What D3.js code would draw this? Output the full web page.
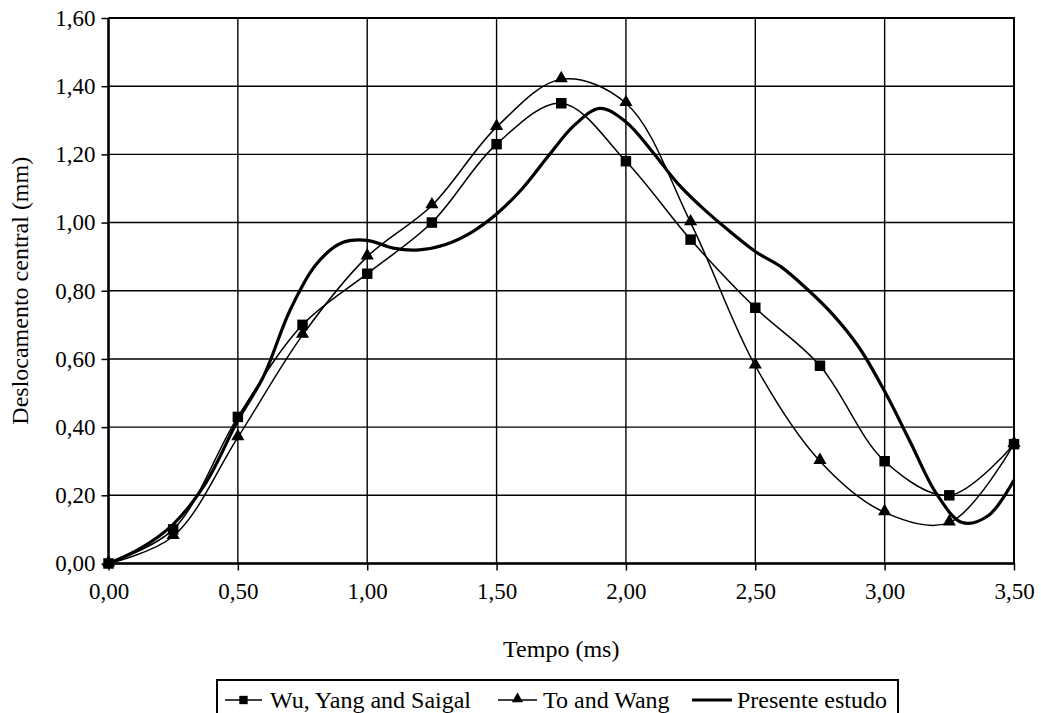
<!DOCTYPE html>
<html>
<head>
<meta charset="utf-8">
<script src="https://cdn.jsdelivr.net/npm/d3@7"></script>
<style>
  html, body { margin: 0; padding: 0; background: #fff; }
  svg { display: block; font-family: "Liberation Serif", "Times New Roman", serif; }
</style>
</head>
<body>
<svg id="chart" width="1041" height="713"></svg>
<script>
// Time instants (ms) for the reference solutions
const tempo = [0, 0.25, 0.5, 0.75, 1.0, 1.25, 1.5, 1.75, 2.0, 2.25, 2.5, 2.75, 3.0, 3.25, 3.5];
// Central displacement (mm) – Wu, Yang and Saigal
const wuYangSaigal = [0.00, 0.10, 0.43, 0.70, 0.85, 1.00, 1.23, 1.35, 1.18, 0.95, 0.75, 0.58, 0.30, 0.20, 0.35];
// Central displacement (mm) – To and Wang
const toWang = [0.00, 0.08, 0.37, 0.67, 0.90, 1.05, 1.28, 1.42, 1.35, 1.00, 0.58, 0.30, 0.15, 0.12, 0.35];
// Present study: finer time sampling
const tempoEstudo = [0, 0.125, 0.25, 0.375, 0.5, 0.6, 0.7, 0.8, 0.9, 1.0, 1.1, 1.2, 1.3, 1.4, 1.5, 1.6, 1.7, 1.8, 1.9, 2.0,
  2.1, 2.2, 2.3, 2.4, 2.5, 2.6, 2.7, 2.8, 2.9, 3.0, 3.1, 3.2, 3.3, 3.4, 3.5];
const presenteEstudo = [0.00, 0.045, 0.115, 0.235, 0.42, 0.55, 0.74, 0.875, 0.94, 0.948, 0.925, 0.92, 0.935, 0.97, 1.025,
  1.10, 1.195, 1.285, 1.335, 1.295, 1.21, 1.115, 1.04, 0.975, 0.915, 0.87, 0.805, 0.73, 0.635, 0.505, 0.355, 0.205, 0.12, 0.14, 0.245];

const xTicks = [0, 0.5, 1.0, 1.5, 2.0, 2.5, 3.0, 3.5];
const yTicks = [0, 0.2, 0.4, 0.6, 0.8, 1.0, 1.2, 1.4, 1.6];
const seriesNames = ["Wu, Yang and Saigal", "To and Wang", "Presente estudo"];

const svg = d3.select("#chart");
const plotLeft = 108.5, plotRight = 1014, plotTop = 18, plotBottom = 563.5;
const fmt = v => d3.format(".2f")(v).replace(".", ",");

const x = d3.scaleLinear().domain([0, 3.5]).range([plotLeft, plotRight]);
const y = d3.scaleLinear().domain([0, 1.6]).range([plotBottom, plotTop]);

// Grid
const grid = svg.append("g").attr("stroke", "#000").attr("stroke-width", 1.4);
grid.selectAll("line.h").data(yTicks).join("line").attr("class", "h")
  .attr("x1", plotLeft).attr("x2", plotRight).attr("y1", d => y(d)).attr("y2", d => y(d));
grid.selectAll("line.v").data(xTicks).join("line").attr("class", "v")
  .attr("y1", plotTop).attr("y2", plotBottom).attr("x1", d => x(d)).attr("x2", d => x(d));

// Plot frame (top and right)
svg.append("path")
  .attr("d", `M${plotLeft},${plotTop}H${plotRight}V${plotBottom}`)
  .attr("fill", "none").attr("stroke", "#000").attr("stroke-width", 2);

// Axes
const xAxis = d3.axisBottom(x).tickValues(xTicks).tickFormat(fmt).tickSize(7).tickPadding(12);
const yAxis = d3.axisLeft(y).tickValues(yTicks).tickFormat(fmt).tickSize(7).tickPadding(6);

const gx = svg.append("g").attr("transform", `translate(0,${plotBottom})`).call(xAxis);
const gy = svg.append("g").attr("transform", `translate(${plotLeft},0)`).call(yAxis);
[gx, gy].forEach(g => {
  g.select(".domain").remove();
  g.selectAll(".tick line").attr("stroke", "#000").attr("stroke-width", 1.5);
  g.selectAll(".tick text").attr("fill", "#000")
    .style("font-family", "'Liberation Serif', serif").style("font-size", "23px");
});
svg.append("line").attr("x1", plotLeft).attr("x2", plotLeft).attr("y1", plotTop).attr("y2", plotBottom + 1)
  .attr("stroke", "#000").attr("stroke-width", 2.5);
svg.append("line").attr("x1", plotLeft - 1).attr("x2", plotRight + 1).attr("y1", plotBottom).attr("y2", plotBottom)
  .attr("stroke", "#000").attr("stroke-width", 2.5);

// Axis titles
svg.append("text").attr("x", (plotLeft + plotRight) / 2).attr("y", 657)
  .attr("text-anchor", "middle").style("font-size", "24px").text("Tempo (ms)");
svg.append("text")
  .attr("transform", `translate(28,${(plotTop + plotBottom) / 2}) rotate(-90)`)
  .attr("text-anchor", "middle").style("font-size", "24px").text("Deslocamento central (mm)");

// Series
const curve = d3.curveCatmullRom.alpha(0.5);
const line = d3.line().x(d => x(d[0])).y(d => y(d[1])).curve(curve);
const wuPts = tempo.map((t, i) => [t, wuYangSaigal[i]]);
const toPts = tempo.map((t, i) => [t, toWang[i]]);
const estPts = tempoEstudo.map((t, i) => [t, presenteEstudo[i]]);

const plot = svg.append("g");
plot.append("path").attr("d", line(toPts)).attr("fill", "none").attr("stroke", "#000").attr("stroke-width", 1.5);
plot.append("path").attr("d", line(wuPts)).attr("fill", "none").attr("stroke", "#000").attr("stroke-width", 1.5);
plot.append("path").attr("d", line(estPts)).attr("fill", "none").attr("stroke", "#000").attr("stroke-width", 3.2)
  .attr("stroke-linejoin", "round");

const square = d3.symbol().type(d3.symbolSquare).size(110);
const triangle = d3.symbol().type(d3.symbolTriangle).size(75);

plot.selectAll("path.sq").data(wuPts).join("path").attr("class", "sq")
  .attr("d", square).attr("transform", d => `translate(${x(d[0])},${y(d[1])})`).attr("fill", "#000");
plot.selectAll("path.tri").data(toPts).join("path").attr("class", "tri")
  .attr("d", triangle).attr("transform", d => `translate(${x(d[0])},${y(d[1]) - 1})`).attr("fill", "#000");

// Legend
const leg = svg.append("g");
const legTop = 680, legLeft = 217, legRight = 898;
leg.append("rect").attr("x", legLeft).attr("y", legTop).attr("width", legRight - legLeft).attr("height", 45)
  .attr("fill", "#fff").attr("stroke", "#000").attr("stroke-width", 2);
const legY = 700;
const legSquare = d3.symbol().type(d3.symbolSquare).size(70);
const legTriangle = d3.symbol().type(d3.symbolTriangle).size(55);
const legItems = [
  { name: seriesNames[0], x0: 225, x1: 262, tx: 270, marker: legSquare, dy: 0, w: 1.5 },
  { name: seriesNames[1], x0: 498, x1: 537, tx: 543, marker: legTriangle, dy: -1, w: 1.5 },
  { name: seriesNames[2], x0: 692, x1: 732, tx: 737, marker: null, dy: 0, w: 3.2 }
];
legItems.forEach(it => {
  leg.append("line").attr("x1", it.x0).attr("x2", it.x1).attr("y1", legY).attr("y2", legY)
    .attr("stroke", "#000").attr("stroke-width", it.w);
  if (it.marker) {
    leg.append("path").attr("d", it.marker())
      .attr("transform", `translate(${(it.x0 + it.x1) / 2},${legY + it.dy})`).attr("fill", "#000");
  }
  leg.append("text").attr("x", it.tx).attr("y", legY + 8).style("font-size", "24px").text(it.name);
});
</script>
</body>
</html>
